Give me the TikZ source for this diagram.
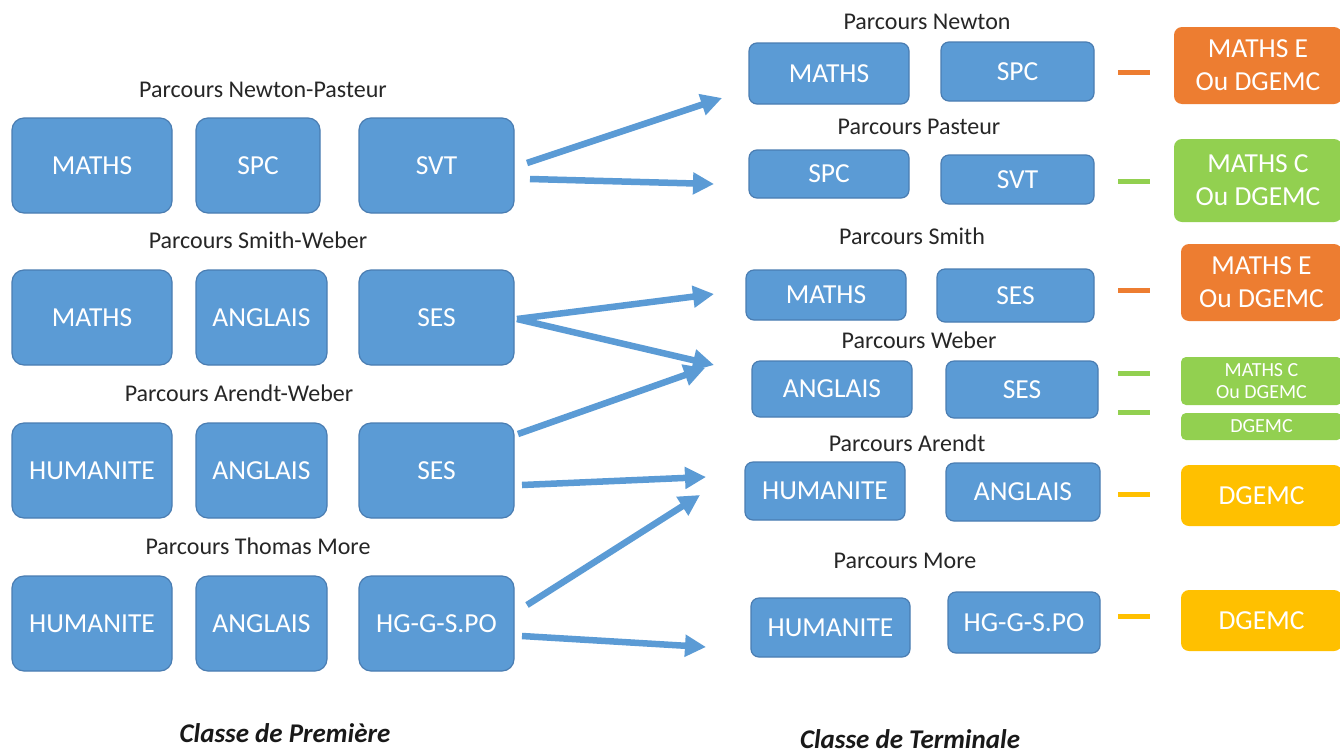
\documentclass[tikz,border=0pt]{standalone}
\usepackage{fontspec}
\setmainfont{Carlito}
\usetikzlibrary{arrows.meta}
\definecolor{bl}{HTML}{5B9BD5}
\definecolor{bld}{HTML}{4A7DB2}
\definecolor{orng}{HTML}{ED7D31}
\definecolor{grn}{HTML}{92D050}
\definecolor{yel}{HTML}{FFC000}
\tikzset{
  bx/.style={draw=bld, line width=1.2pt, fill=bl, rounded corners=12pt, text=white,
    font=\fontsize{27.5}{33}\selectfont, inner sep=0pt, align=center},
  sbx/.style={bx, rounded corners=8pt},
  obx/.style={sbx, draw=none, fill=#1},
  lbl/.style={font=\fontsize{24}{28}\selectfont, text=black!85},
  cls/.style={font=\fontsize{27}{30}\selectfont\bfseries\itshape, text=black!90, inner sep=0pt},
  arr/.style={draw=bl, line width=6.5pt, -{Triangle[length=21pt, width=21pt]}},
  dsh/.style={draw=#1, line width=5pt},
}
\begin{document}
\begin{tikzpicture}[x=1pt, y=-1pt]
\useasboundingbox[fill=white] (0,0) rectangle (1340,753);

% ---- Left column (Premiere)
\node[lbl] (l1) at (263,90) {Parcours Newton-Pasteur};
\node[bx, minimum width=160pt, minimum height=95pt] (a1) at (92,165.5) {MATHS};
\node[bx, minimum width=124pt, minimum height=95pt] (a2) at (258,165.5) {SPC};
\node[bx, minimum width=155pt, minimum height=95pt] (a3) at (436.5,165.5) {SVT};

\node[lbl] (l2) at (258,240) {Parcours Smith-Weber};
\node[bx, minimum width=160pt, minimum height=95pt] (b1) at (92,317.5) {MATHS};
\node[bx, minimum width=131pt, minimum height=95pt] (b2) at (261.5,317.5) {ANGLAIS};
\node[bx, minimum width=155pt, minimum height=95pt] (b3) at (436.5,317.5) {SES};

\node[lbl] (l3) at (239,393) {Parcours Arendt-Weber};
\node[bx, minimum width=160pt, minimum height=95pt] (c1) at (92,470.5) {HUMANITE};
\node[bx, minimum width=131pt, minimum height=95pt] (c2) at (261.5,470.5) {ANGLAIS};
\node[bx, minimum width=155pt, minimum height=95pt] (c3) at (436.5,470.5) {SES};

\node[lbl] (l4) at (258,546) {Parcours Thomas More};
\node[bx, minimum width=160pt, minimum height=95pt] (d1) at (92,623.5) {HUMANITE};
\node[bx, minimum width=131pt, minimum height=95pt] (d2) at (261.5,623.5) {ANGLAIS};
\node[bx, minimum width=155pt, minimum height=95pt] (d3) at (436.5,623.5) {HG-G-S.PO};

% ---- Right column (Terminale)
\node[lbl] (rn) at (927,22) {Parcours Newton};
\node[sbx, minimum width=160pt, minimum height=61pt] (nM) at (829,73.5) {MATHS};
\node[sbx, minimum width=153pt, minimum height=59pt] (nS) at (1017.5,71.5) {SPC};
\node[obx=orng, minimum width=168pt, minimum height=77pt] (nO) at (1258,65.5) {MATHS E\\Ou DGEMC};
\draw[dsh=orng] (1118,72) -- (1150,72);

\node[lbl] (rp) at (919,127) {Parcours Pasteur};
\node[sbx, minimum width=160pt, minimum height=48pt] (pS) at (829,174) {SPC};
\node[sbx, minimum width=153pt, minimum height=49pt] (pV) at (1017.5,179.5) {SVT};
\node[obx=grn, minimum width=168pt, minimum height=83pt] (pG) at (1258,180.5) {MATHS C\\Ou DGEMC};
\draw[dsh=grn] (1118,181) -- (1150,181);

\node[lbl] (rs) at (912,236) {Parcours Smith};
\node[sbx, minimum width=160pt, minimum height=50pt] (sM) at (826,295) {MATHS};
\node[sbx, minimum width=157pt, minimum height=53pt] (sS) at (1015.5,295.5) {SES};
\node[obx=orng, minimum width=161pt, minimum height=77pt] (sO) at (1261.5,282.5) {MATHS E\\Ou DGEMC};
\draw[dsh=orng] (1118,290) -- (1150,290);

\node[lbl] (rw) at (919,340) {Parcours Weber};
\node[sbx, minimum width=160pt, minimum height=56pt] (wA) at (832,389) {ANGLAIS};
\node[sbx, minimum width=152pt, minimum height=57pt] (wS) at (1022,389.5) {SES};
\node[obx=grn, rounded corners=5pt, minimum width=161pt, minimum height=48pt, font=\fontsize{20}{22}\selectfont] (wG1) at (1261.5,381) {MATHS C\\Ou DGEMC};
\node[obx=grn, rounded corners=5pt, minimum width=161pt, minimum height=27pt, font=\fontsize{20}{22}\selectfont] (wG2) at (1261.5,426.5) {DGEMC};
\draw[dsh=grn] (1118,373) -- (1150,373);
\draw[dsh=grn] (1118,412) -- (1150,412);

\node[lbl] (ra) at (907,443) {Parcours Arendt};
\node[sbx, minimum width=160pt, minimum height=58pt] (aH) at (825,491) {HUMANITE};
\node[sbx, minimum width=154pt, minimum height=58pt] (aA) at (1023,492) {ANGLAIS};
\node[obx=yel, minimum width=161pt, minimum height=61pt] (aY) at (1261.5,495.5) {DGEMC};
\draw[dsh=yel] (1118,494) -- (1150,494);

\node[lbl] (rm) at (905,561) {Parcours More};
\node[sbx, minimum width=159pt, minimum height=59pt] (mH) at (830.5,627.5) {HUMANITE};
\node[sbx, minimum width=152pt, minimum height=61pt] (mG) at (1024,622.5) {HG-G-S.PO};
\node[obx=yel, minimum width=161pt, minimum height=61pt] (mY) at (1261.5,620.5) {DGEMC};
\draw[dsh=yel] (1118,616) -- (1150,616);

% ---- Arrows
\coordinate (s1) at (527,163);  \coordinate (e1) at (722,98);
\coordinate (s2) at (530,179);  \coordinate (e2) at (714,184);
\coordinate (s3) at (517,319);  \coordinate (e3) at (714,294);
\coordinate (e4) at (714,365);
\coordinate (s5) at (518,434);  \coordinate (e5) at (705,368);
\coordinate (s6) at (522,485);  \coordinate (e6) at (706,477);
\coordinate (s7) at (527,605);  \coordinate (e7) at (700,495);
\coordinate (s8) at (522,636);  \coordinate (e8) at (706,647);
\draw[arr] (s1) -- (e1);
\draw[arr] (s2) -- (e2);
\draw[arr] (s3) -- (e3);
\draw[arr] (s3) -- (e4);
\draw[arr] (s5) -- (e5);
\draw[arr] (s6) -- (e6);
\draw[arr] (s7) -- (e7);
\draw[arr] (s8) -- (e8);

% ---- Bottom titles
\node[cls] (cp) at (285,733) {Classe de Première};
\node[cls] (ct) at (910,739) {Classe de Terminale};
\end{tikzpicture}
\end{document}
